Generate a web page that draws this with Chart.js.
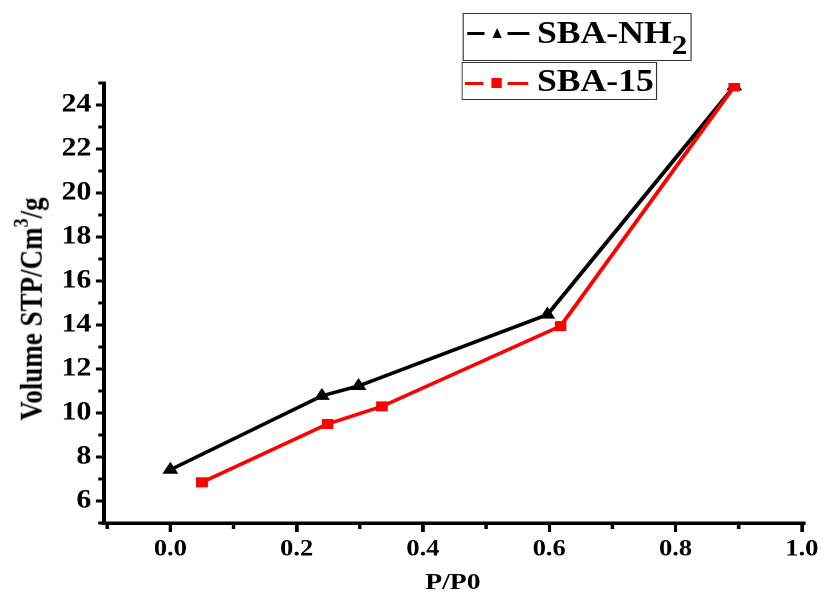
<!DOCTYPE html>
<html>
<head>
<meta charset="utf-8">
<script src="https://cdn.jsdelivr.net/npm/chart.js@4.4.1/dist/chart.umd.min.js"></script>
<style>
html,body{margin:0;padding:0;background:#fff;overflow:hidden;width:824px;height:598px;}
#wrap{position:absolute;left:0;top:0;width:716px;height:598px;transform:scaleX(1.1508);transform-origin:0 0;}
#c{position:absolute;left:0;top:0;width:716px;height:598px;}
.t{position:absolute;font-family:"Liberation Serif","Times New Roman",serif;font-weight:bold;color:#000;white-space:nowrap;line-height:1;}
.box{position:absolute;border:1.5px solid #333;box-sizing:border-box;background:#fff;}
.ln{position:absolute;height:3px;}
</style>
</head>
<body>
<div id="wrap">
  <canvas id="c" width="716" height="598"></canvas>

  <div class="box" style="left:402px;top:12.5px;width:198.5px;height:48px;"></div>
  <div class="ln" style="left:405.8px;top:31.5px;width:15.5px;background:#000;"></div>
  <div style="position:absolute;left:427.9px;top:27.5px;width:0;height:0;border-left:4.8px solid transparent;border-right:4.8px solid transparent;border-bottom:10px solid #000;"></div>
  <div class="ln" style="left:441.4px;top:31.5px;width:19px;background:#000;"></div>
  <div class="t" style="left:466.6px;top:17.3px;font-size:31px;">SBA-NH<span style="font-size:27px;position:relative;top:11px;">2</span></div>

  <div class="box" style="left:401.2px;top:61.7px;width:169.5px;height:38.5px;"></div>
  <div class="ln" style="left:404px;top:81.8px;width:15.5px;background:#ff0000;"></div>
  <div style="position:absolute;left:427.3px;top:78.3px;width:8.7px;height:10px;background:#ff0000;"></div>
  <div class="ln" style="left:441.4px;top:81.8px;width:17.5px;background:#ff0000;"></div>
  <div class="t" style="left:466.6px;top:65px;font-size:31px;">SBA-15</div>

  <div class="t" id="ytitle" style="left:27.5px;top:309px;font-size:27px;transform:translate(-50%,-50%) rotate(-90deg);">Volume STP/Cm<span style="font-size:18px;position:relative;top:-12px;">3</span>/g</div>
  <div class="t" id="xtitle" style="left:393.6px;top:581px;font-size:24px;transform:translate(-50%,-50%);">P/P0</div>
</div>
<script>
const xTicks = [0.0, 0.2, 0.4, 0.6, 0.8, 1.0];
const xMinorTicks = [-0.1, 0.1, 0.3, 0.5, 0.7, 0.9];
const yTicks = [6, 8, 10, 12, 14, 16, 18, 20, 22, 24];
const yMinorTicks = [5, 7, 9, 11, 13, 15, 17, 19, 21, 23, 25];

const nh2P = [0.0, 0.24, 0.298, 0.597, 0.893];
const nh2V = [7.42, 10.78, 11.23, 14.47, 24.85];
const sba15P = [0.05, 0.249, 0.335, 0.618, 0.893];
const sba15V = [6.85, 9.5, 10.3, 13.95, 24.85];

const FONT = '"Liberation Serif", "Times New Roman", serif';

const minorTicks = {
  id: 'minorTicks',
  afterDraw(chart) {
    const {ctx, chartArea: a} = chart;
    const xs = chart.scales.x, ys = chart.scales.y;
    ctx.save();
    ctx.strokeStyle = '#000';
    ctx.lineWidth = 3;
    ctx.beginPath();
    xMinorTicks.forEach(v => {
      const px = xs.getPixelForValue(v);
      ctx.moveTo(px, a.bottom);
      ctx.lineTo(px, a.bottom + 6);
    });
    yMinorTicks.forEach(v => {
      const py = ys.getPixelForValue(v);
      ctx.moveTo(a.left, py);
      ctx.lineTo(a.left - 5, py);
    });
    ctx.stroke();
    ctx.restore();
  }
};

new Chart(document.getElementById('c'), {
  type: 'scatter',
  data: {
    datasets: [
      {
        label: 'SBA-NH2',
        data: nh2P.map((p, i) => ({x: p, y: nh2V[i]})),
        showLine: true,
        borderColor: '#000',
        backgroundColor: '#000',
        borderWidth: 3.5,
        pointStyle: 'triangle',
        pointRadius: 8,
        pointBorderWidth: 0,
        pointBackgroundColor: '#000',
        order: 2
      },
      {
        label: 'SBA-15',
        data: sba15P.map((p, i) => ({x: p, y: sba15V[i]})),
        showLine: true,
        borderColor: '#ff0000',
        backgroundColor: '#ff0000',
        borderWidth: 3.5,
        pointStyle: 'rect',
        pointRadius: 7.1,
        pointBorderWidth: 0,
        pointBackgroundColor: '#ff0000',
        order: 1
      }
    ]
  },
  options: {
    responsive: false,
    animation: false,
    devicePixelRatio: 2,
    layout: {padding: {left: 0, top: 83, right: 16.5, bottom: 0}},
    plugins: {legend: {display: false}, tooltip: {enabled: false}, title: {display: false}},
    scales: {
      x: {
        type: 'linear',
        min: -0.105,
        max: 1.005,
        afterBuildTicks: s => { s.ticks = xTicks.map(v => ({value: v})); },
        afterFit: s => { s.height = 75; },
        grid: {drawOnChartArea: false, drawTicks: true, tickLength: 9, tickWidth: 3, color: '#000'},
        border: {display: true, width: 3.5, color: '#000'},
        ticks: {
          color: '#000', padding: 4, maxRotation: 0, autoSkip: false,
          font: {family: FONT, size: 23, weight: 'bold'},
          callback: v => Number(v).toFixed(1)
        }
      },
      y: {
        type: 'linear',
        min: 5,
        max: 25,
        afterBuildTicks: s => { s.ticks = yTicks.map(v => ({value: v})); },
        afterFit: s => { s.width = 90.4; },
        grid: {drawOnChartArea: false, drawTicks: true, tickLength: 7, tickWidth: 3, color: '#000'},
        border: {display: true, width: 3.5, color: '#000'},
        ticks: {
          color: '#000', padding: 4, autoSkip: false,
          font: {family: FONT, size: 26, weight: 'bold'},
          callback: v => String(v)
        }
      }
    }
  },
  plugins: [minorTicks]
});
</script>
</body>
</html>
